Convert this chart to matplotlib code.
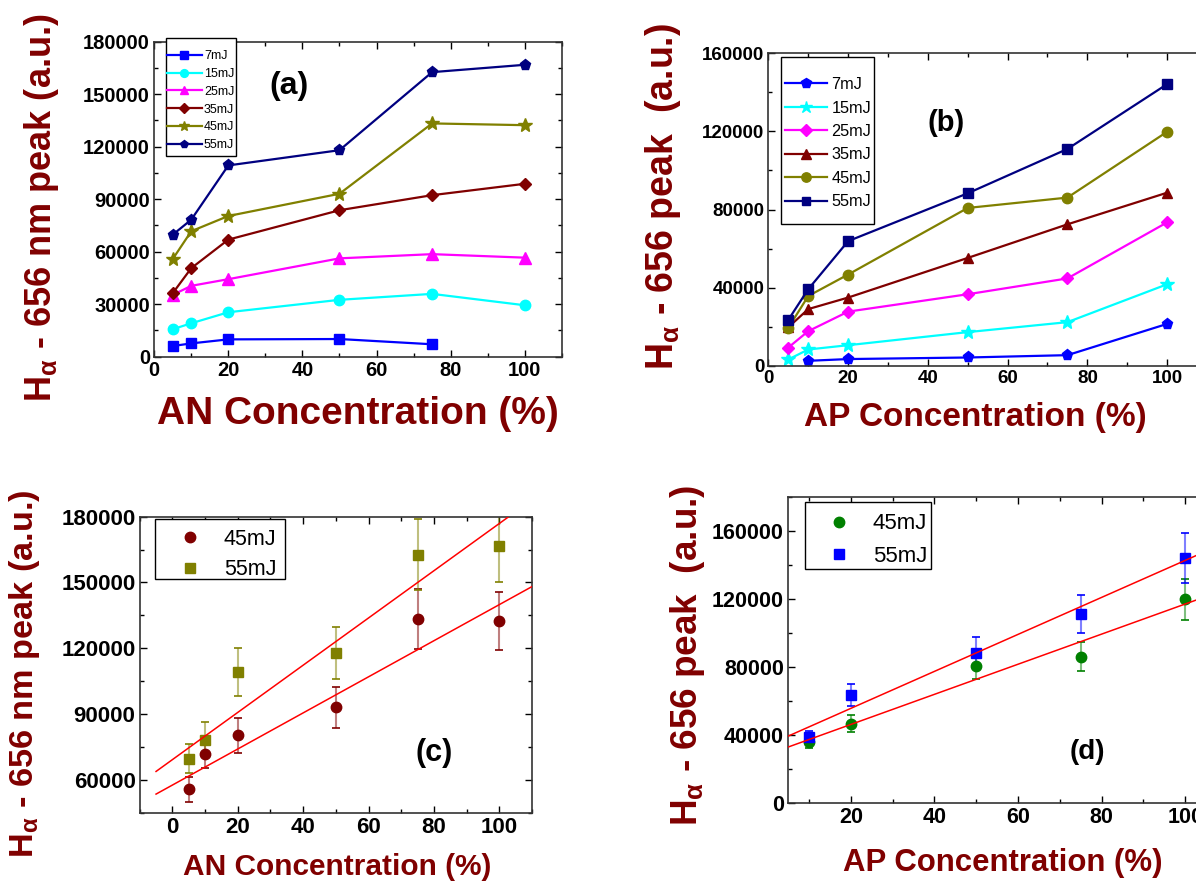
import numpy as np
import matplotlib
matplotlib.use("Agg")
import matplotlib.pyplot as plt
from matplotlib.patches import Rectangle
from matplotlib.ticker import MultipleLocator

# ---- data ----
an_x = [5, 10, 20, 50, 75, 100]
an_x7 = [5, 10, 20, 50, 75]
an_7 = [6100, 7600, 9900, 10100, 7100]
an_15 = [15700, 19100, 25400, 32500, 35900, 29400]
an_25 = [35300, 40500, 44300, 56200, 58600, 56600]
an_35 = [36300, 50600, 66900, 83700, 92300, 98800]
an_45 = [55800, 71700, 80400, 93100, 133300, 132300]
an_55 = [69700, 78300, 109300, 118000, 162600, 166800]

ap_x = [5, 10, 20, 50, 75, 100]
ap_x7 = [10, 20, 50, 75, 100]
ap_7 = [2500, 3400, 4200, 5400, 21400]
ap_15 = [3200, 8300, 10500, 17200, 22300, 41700]
ap_25 = [9300, 17700, 27700, 36600, 44700, 73400]
ap_35 = [19700, 29000, 34900, 55200, 72400, 88600]
ap_45 = [19400, 35700, 46700, 80800, 86100, 119800]
ap_55 = [23500, 39200, 63800, 88300, 111000, 144200]

# error bars (c) and (d)
err_an_45 = [5700, 6500, 8000, 9300, 13500, 13300]
err_an_55 = [6800, 7900, 11000, 11800, 16200, 16600]
err_ap_45 = [3000, 4900, 7800, 8500, 12000]
err_ap_55 = [3500, 6500, 9300, 11300, 14600]

# linear fits (intercept, slope)
fit_an_45 = (57600, 823)
fit_an_55 = (69200, 1077)
fit_ap_45 = (28600, 884)
fit_ap_55 = (34000, 1086)

energies = ["7mJ", "15mJ", "25mJ", "35mJ", "45mJ", "55mJ"]

W, H = 1196, 882
DARKRED = "#800000"

plt.rcParams["font.family"] = ["Liberation Sans", "DejaVu Sans"]
plt.rcParams["font.weight"] = "bold"
plt.rcParams["mathtext.fontset"] = "custom"
plt.rcParams["mathtext.rm"] = "Liberation Sans:bold"

fig = plt.figure(figsize=(W / 100, H / 100), dpi=100)


def px(x, y):
    return x / W, 1 - y / H


def add_axes(l, t, r, b):
    return fig.add_axes([l / W, 1 - b / H, (r - l) / W, (b - t) / H])


def style(ax, xlim, ylim, xmaj, xmin, ymaj, ymin, tsize):
    ax.set_xlim(*xlim)
    ax.set_ylim(*ylim)
    ax.xaxis.set_major_locator(MultipleLocator(xmaj))
    ax.xaxis.set_minor_locator(MultipleLocator(xmin))
    ax.yaxis.set_major_locator(MultipleLocator(ymaj))
    ax.yaxis.set_minor_locator(MultipleLocator(ymin))
    ax.tick_params(which="both", direction="in", top=True, right=True, width=1)
    ax.tick_params(which="major", length=5, labelsize=tsize, pad=3)
    ax.tick_params(which="minor", length=3)
    for sp in ax.spines.values():
        sp.set_color("#333333")
        sp.set_linewidth(1.2)


def box(ax, l, t, r, b):
    ax.add_patch(Rectangle(px(l, b), (r - l) / W, (b - t) / H, transform=fig.transFigure,
                           facecolor="white", edgecolor="black", lw=1, zorder=5,
                           clip_on=False))


def legend(ax, handles, x, y, size, hl, htp, ls, mscale=1.0):
    lg = ax.legend(handles=handles, loc="upper left", bbox_to_anchor=px(x, y),
                   bbox_transform=fig.transFigure, frameon=False, borderpad=0,
                   borderaxespad=0, numpoints=1, handlelength=hl, handletextpad=htp,
                   labelspacing=ls, markerscale=mscale,
                   prop={"size": size, "weight": "normal"})
    lg.set_zorder(6)


def ylab(x, y, s, size):
    fig.text(*px(x, y), s, rotation=90, ha="center", va="center", fontsize=size,
             color=DARKRED, fontweight="bold")


def xlab(x, y, s, size):
    fig.text(*px(x, y), s, ha="center", va="center", fontsize=size,
             color=DARKRED, fontweight="bold")


lab_nm = r"H$_\mathregular{α}$ - 656 nm peak (a.u.)"
lab_pk = r"H$_\mathregular{α}$ - 656 peak  (a.u.)"

# ---- (a) ----
ax = add_axes(154.2, 41.7, 561.8, 356.7)
style(ax, (0, 110), (0, 180000), 20, 10, 30000, 15000, 14.5)
cols_a = ["#0000ff", "#00ffff", "#ff00ff", DARKRED, "#808000", "#000080"]
marks_a = ["s", "o", "^", "D", "*", "p"]
sizes_a = [7, 7.5, 8, 6.5, 10, 8]
ys_a = [an_7, an_15, an_25, an_35, an_45, an_55]
hs = []
for i in range(6):
    xx = an_x7 if i == 0 else an_x
    h, = ax.plot(xx, ys_a[i], "-", color=cols_a[i], marker=marks_a[i], ms=sizes_a[i],
                 lw=1.6, label=energies[i])
    hs.append(h)
box(ax, 165.7, 37.7, 236.1, 155.7)
legend(ax, hs, 167.3, 50.3, 9, 2.75, 0.18, 0.46, 0.75)
ax.text(36.5, 154700, "(a)", fontsize=23, ha="center", va="center")
ylab(42, 208, lab_nm, 26)
xlab(357.8, 414, "AN Concentration (%)", 28)

# ---- (b) ----
ax = add_axes(768.4, 53.3, 768.4 + 3.987 * 110, 365.7)
style(ax, (0, 110), (0, 160000), 20, 10, 40000, 20000, 13.5)
cols_b = ["#0000ff", "#00ffff", "#ff00ff", DARKRED, "#808000", "#000080"]
marks_b = ["p", "*", "D", "^", "o", "s"]
sizes_b = [8, 10, 6.5, 7.5, 7.5, 7]
ys_b = [ap_7, ap_15, ap_25, ap_35, ap_45, ap_55]
hs = []
for i in range(6):
    xx = ap_x7 if i == 0 else ap_x
    h, = ax.plot(xx, ys_b[i], "-", color=cols_b[i], marker=marks_b[i], ms=sizes_b[i],
                 lw=1.6, label=energies[i])
    hs.append(h)
box(ax, 780.5, 56.7, 874.4, 224)
legend(ax, hs, 785.1, 77.1, 11.7, 2.56, 0.3, 0.52, 0.9)
ax.text(44.5, 124150, "(b)", fontsize=21, ha="center", va="center")
ylab(662.7, 196.5, lab_pk, 27)
xlab(975, 418, "AP Concentration (%)", 24)


def err_panel(ax, x, ys, errs, fits, cols, marks, xs_fit):
    hs = []
    for y, e, c, m, lab in zip(ys, errs, cols, marks, ["45mJ", "55mJ"]):
        eb = ax.errorbar(x, y, yerr=e, fmt="none", ecolor=c, elinewidth=1.5,
                         capsize=3, capthick=1.2, zorder=2)
        for coll in eb[2]:
            coll.set_alpha(0.5)
        h, = ax.plot(x, y, linestyle="none", marker=m, color=c, ms=7.5, zorder=3, label=lab)
        hs.append(h)
    xf = np.array(xs_fit)
    for a, b in fits:
        ax.plot(xf, a + b * xf, color="red", lw=1.1, zorder=4)
    return hs


# ---- (c) ----
ax = add_axes(139.7, 516.7, 532.0, 812.7)
style(ax, (-10, 110), (45000, 180000), 20, 10, 30000, 15000, 16)
hs = err_panel(ax, an_x, [an_45, an_55], [err_an_45, err_an_55], [fit_an_45, fit_an_55],
               [DARKRED, "#808000"], ["o", "s"], [-5, 115])
box(ax, 155, 519.3, 285.1, 579)
legend(ax, hs, 165, 528.8, 15.5, 2.28, 0.46, 0.45)
ax.text(80.1, 72170, "(c)", fontsize=22, ha="center", va="center")
ylab(24.9, 673.5, lab_nm, 24.7)
xlab(336.8, 866.7, "AN Concentration (%)", 21.5)

# ---- (d) ----
ax = add_axes(788.1, 496.7, 788.1 + 4.18 * 105, 803.3)
style(ax, (5, 110), (0, 180000), 20, 10, 40000, 20000, 15.5)
hs = err_panel(ax, ap_x[1:], [ap_45[1:], ap_55[1:]], [err_ap_45, err_ap_55],
               [fit_ap_45, fit_ap_55], ["#008000", "#0000ff"], ["o", "s"], [0, 120])
box(ax, 804.5, 501.7, 931.4, 569.3)
legend(ax, hs, 814, 513.3, 16, 2.23, 0.42, 0.52)
ax.text(76.6, 30300, "(d)", fontsize=20, ha="center", va="center")
ylab(687.4, 655, lab_pk, 26.6)
xlab(1003, 863.3, "AP Concentration (%)", 22.4)

fig.savefig("out.png", dpi=100)
